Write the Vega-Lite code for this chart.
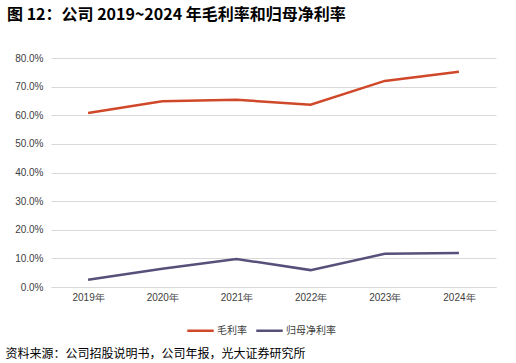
{
  "$schema": "https://vega.github.io/schema/vega-lite/v6.json",
  "autosize": {"type": "none"},
  "padding": {"left": 51, "top": 58, "right": 20, "bottom": 76},
  "width": 445,
  "height": 229,
  "background": "white",
  "title": {
    "text": "图 12：公司 2019~2024 年毛利率和归母净利率",
    "anchor": "start",
    "frame": "group",
    "dx": -44,
    "offset": 30,
    "font": "Noto Sans CJK SC",
    "fontSize": 16,
    "fontWeight": "bold",
    "color": "#000000"
  },
  "config": {
    "view": {"stroke": null},
    "font": "Liberation Sans"
  },
  "data": {
    "values": [
      {"year": "2019年", "series": "毛利率", "value": 0.608},
      {"year": "2020年", "series": "毛利率", "value": 0.649},
      {"year": "2021年", "series": "毛利率", "value": 0.654},
      {"year": "2022年", "series": "毛利率", "value": 0.637},
      {"year": "2023年", "series": "毛利率", "value": 0.720},
      {"year": "2024年", "series": "毛利率", "value": 0.752},
      {"year": "2019年", "series": "归母净利率", "value": 0.025},
      {"year": "2020年", "series": "归母净利率", "value": 0.064},
      {"year": "2021年", "series": "归母净利率", "value": 0.098},
      {"year": "2022年", "series": "归母净利率", "value": 0.059},
      {"year": "2023年", "series": "归母净利率", "value": 0.116},
      {"year": "2024年", "series": "归母净利率", "value": 0.119}
    ]
  },
  "mark": {"type": "line", "strokeWidth": 2.5},
  "encoding": {
    "x": {
      "field": "year",
      "type": "nominal",
      "sort": null,
      "scale": {"paddingInner": 0, "paddingOuter": 0.5},
      "axis": {
        "title": "资料来源：公司招股说明书，公司年报，光大证券研究所",
        "titleFont": "Noto Sans CJK SC",
        "titleFontSize": 12,
        "titleFontWeight": "normal",
        "titleColor": "#000000",
        "titleAnchor": "start",
        "titleAlign": "left",
        "titleBaseline": "alphabetic",
        "titleX": -46,
        "titleY": 70,
        "labelAngle": 0,
        "labelFontSize": 10,
        "labelColor": "#404040",
        "labelPadding": 5,
        "ticks": false,
        "domainColor": "#d9d9d9",
        "domainWidth": 1
      }
    },
    "y": {
      "field": "value",
      "type": "quantitative",
      "scale": {"domain": [0, 0.8], "nice": false},
      "axis": {
        "title": null,
        "format": ".1%",
        "values": [0, 0.1, 0.2, 0.3, 0.4, 0.5, 0.6, 0.7, 0.8],
        "labelOverlap": false,
        "labelFontSize": 10,
        "labelColor": "#404040",
        "labelPadding": 8,
        "ticks": false,
        "domain": false,
        "gridColor": "#d9d9d9",
        "gridWidth": 1
      }
    },
    "color": {
      "field": "series",
      "type": "nominal",
      "sort": ["毛利率", "归母净利率"],
      "scale": {"domain": ["毛利率", "归母净利率"], "range": ["#d0482a", "#56507a"]},
      "legend": {
        "title": null,
        "orient": "none",
        "direction": "horizontal",
        "legendX": 135,
        "legendY": 258,
        "symbolType": "stroke",
        "symbolSize": 700,
        "symbolStrokeWidth": 2.5,
        "labelFontSize": 10,
        "labelFont": "Noto Sans CJK SC",
        "labelColor": "#404040",
        "columnPadding": 4,
        "labelOffset": 2
      }
    }
  }
}
